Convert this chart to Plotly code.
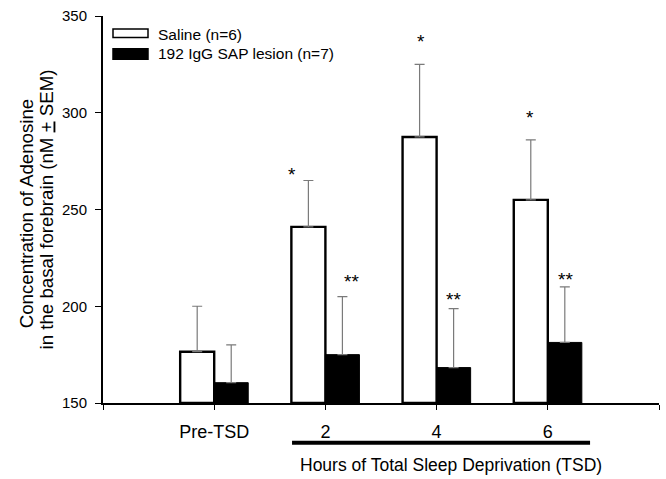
import plotly.graph_objects as go

# Adenosine concentration in the basal forebrain (nM), mean + SEM
categories = ["Pre-TSD", "2", "4", "6"]
saline_mean = [176.5, 241, 287.5, 255]
saline_sem = [23.5, 24, 37.5, 31]
lesion_mean = [160.5, 175, 168.3, 181.3]
lesion_sem = [19.5, 30, 30.5, 28.7]

# significance markers: text, height (nM) and horizontal offset from group centre
saline_marks = ["", "*", "*", "*"]
saline_mark_y = [None, 268, 337, 297.5]
saline_mark_dx = [0, -0.30, -0.144, -0.162]
lesion_marks = ["", "**", "**", "**"]
lesion_mark_y = [None, 213, 203.5, 214]
lesion_mark_dx = [0, 0.234, 0.156, 0.156]

y_ticks = [150, 200, 250, 300, 350]

FONT = "Liberation Sans, Arial, sans-serif"
xpos = list(range(len(categories)))

fig = go.Figure()
fig.add_trace(go.Bar(
    x=xpos, y=[m - 150 for m in saline_mean], base=150,
    name="Saline (n=6)",
    marker=dict(color="white", line=dict(color="black", width=2.4)),
    error_y=dict(type="data", array=saline_sem, symmetric=False,
                 arrayminus=[0] * 4, color="#7a7a7a", thickness=1.2, width=5),
))
fig.add_trace(go.Bar(
    x=xpos, y=[m - 150 for m in lesion_mean], base=150,
    name="192 IgG SAP lesion (n=7)",
    marker=dict(color="black", line=dict(color="black", width=1)),
    error_y=dict(type="data", array=lesion_sem, symmetric=False,
                 arrayminus=[0] * 4, color="#7a7a7a", thickness=1.2, width=5),
))

for i in xpos:
    if saline_marks[i]:
        fig.add_annotation(x=i + saline_mark_dx[i], y=saline_mark_y[i],
                           text=saline_marks[i], showarrow=False,
                           font=dict(size=19, color="black", family=FONT))
    if lesion_marks[i]:
        fig.add_annotation(x=i + lesion_mark_dx[i], y=lesion_mark_y[i],
                           text=lesion_marks[i], showarrow=False,
                           font=dict(size=19, color="black", family=FONT))

# bracket under the TSD hours and its caption
fig.add_shape(type="line", xref="x", yref="paper", x0=0.70, x1=3.38,
              y0=-0.103, y1=-0.103, line=dict(color="black", width=4))
fig.add_annotation(xref="x", yref="paper", x=2.13, y=-0.159,
                   text="Hours of Total Sleep Deprivation (TSD)", showarrow=False,
                   yanchor="middle", font=dict(size=17.5, color="black", family=FONT))

# y-axis caption, two tightly spaced rotated lines
y_title_lines = ["Concentration of Adenosine",
                 "in the basal forebrain (nM <u>+</u> SEM)"]
for line, xp, yp in zip(y_title_lines, [-0.1385, -0.1025], [0.49, 0.5]):
    fig.add_annotation(xref="paper", yref="paper", x=xp, y=yp, text=line,
                       textangle=-90, showarrow=False,
                       xanchor="center", yanchor="middle",
                       font=dict(size=18.7, color="black", family=FONT))


# legend drawn as wide swatches with labels
def px_x(p):
    return (p - 103) / 556


def px_y(p):
    return (403 - p) / 389


legend_items = [("Saline (n=6)", "white", 27, 35.5, 32.5),
                ("192 IgG SAP lesion (n=7)", "black", 47, 57.5, 52)]
for label, fill, top, bottom, mid in legend_items:
    fig.add_shape(type="rect", xref="paper", yref="paper",
                  x0=px_x(113), x1=px_x(148), y0=px_y(bottom), y1=px_y(top),
                  fillcolor=fill, line=dict(color="black", width=1.5))
    fig.add_annotation(xref="paper", yref="paper", x=px_x(156), y=px_y(mid),
                       text=label, showarrow=False, xanchor="left", yanchor="middle",
                       font=dict(size=15.5, color="black", family=FONT))

fig.update_layout(
    width=666, height=479,
    margin=dict(l=103, r=7, t=14, b=76),
    paper_bgcolor="white", plot_bgcolor="white",
    barmode="group", bargap=0.388, bargroupgap=0,
    showlegend=False,
    font=dict(family=FONT, size=15, color="black"),
)
fig.update_xaxes(
    range=[-1, 4], tickmode="array", tickvals=[-1, 0, 1, 2, 3, 4],
    ticktext=[""] + categories + [""],
    showline=True, linecolor="black", linewidth=2,
    ticks="outside", ticklen=5, tickcolor="black", tickwidth=1,
    ticklabelstandoff=6,
    showgrid=False, zeroline=False,
    tickfont=dict(size=18, family=FONT, color="black"),
)
fig.update_yaxes(
    range=[150, 350], tickmode="array", tickvals=y_ticks,
    showline=True, linecolor="black", linewidth=2,
    ticks="outside", ticklen=6, tickcolor="black", tickwidth=1,
    ticklabelstandoff=5,
    showgrid=False, zeroline=False,
    tickfont=dict(size=15, family=FONT, color="black"),
)

fig.write_html("out.html")
